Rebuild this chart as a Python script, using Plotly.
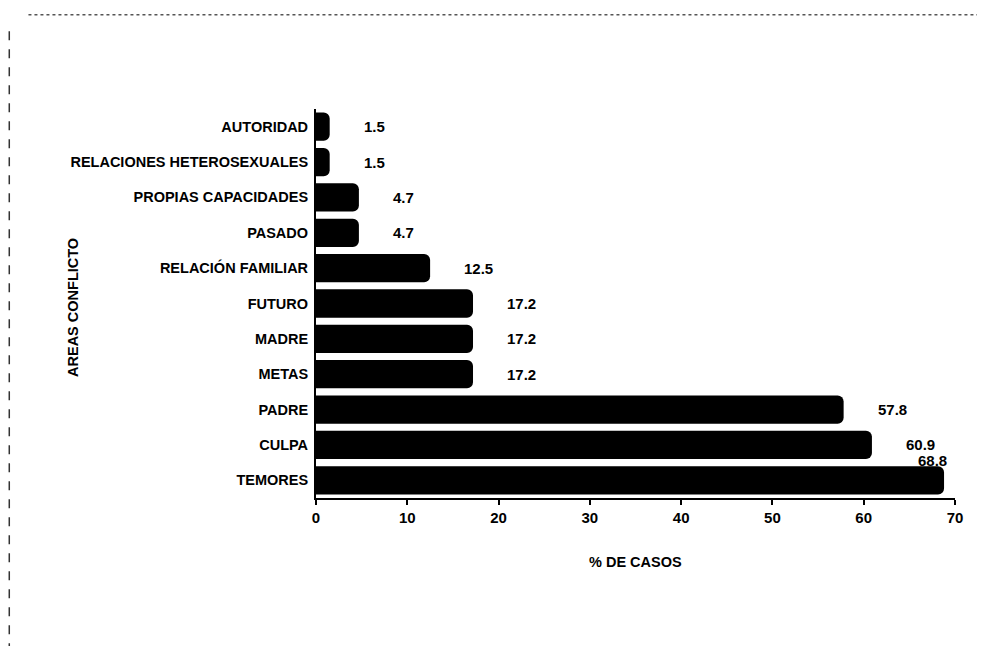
import plotly.graph_objects as go

# areas, bottom to top as drawn
areas = [
    "TEMORES", "CULPA", "PADRE", "METAS", "MADRE", "FUTURO",
    "RELACIÓN FAMILIAR", "PASADO", "PROPIAS CAPACIDADES",
    "RELACIONES HETEROSEXUALES", "AUTORIDAD",
]
pct_cases = [68.8, 60.9, 57.8, 17.2, 17.2, 17.2, 12.5, 4.7, 4.7, 1.5, 1.5]
x_ticks = [0, 10, 20, 30, 40, 50, 60, 70]

FONT = "Liberation Sans, Arial, sans-serif"

fig = go.Figure()
fig.add_trace(
    go.Bar(
        y=areas,
        x=pct_cases,
        orientation="h",
        width=0.8,
        marker={"color": "#000000", "cornerradius": 6, "line": {"width": 0}},
        hoverinfo="x+y",
    )
)

# value labels to the right of each bar (last one sits above)
for area, val in zip(areas, pct_cases):
    last = val == max(pct_cases)
    fig.add_annotation(
        x=val, y=area, xref="x", yref="y",
        text=f"<b>{val}</b>",
        showarrow=False,
        xanchor="left" if not last else "center",
        xshift=32 if not last else -12,
        yshift=0 if not last else 20,
        font={"family": FONT, "size": 15, "color": "#000000"},
    )

fig.add_annotation(
    x=-0.395, y=0.49, xref="paper", yref="paper",
    text="<b>AREAS CONFLICTO</b>", textangle=-90, showarrow=False,
    font={"family": FONT, "size": 14.5, "color": "#000000"},
)
fig.add_annotation(
    x=0.5, y=-0.19, xref="paper", yref="paper",
    text="<b>% DE CASOS</b>", showarrow=False,
    font={"family": FONT, "size": 14.5, "color": "#000000"},
)

# scanned page frame (top and left edges)
fig.add_shape(type="line", xref="paper", yref="paper",
              x0=-0.45, x1=1.06, y0=1.242, y1=1.242,
              line={"color": "#555555", "width": 1.5, "dash": "dot"})
fig.add_shape(type="line", xref="paper", yref="paper",
              x0=-0.48, x1=-0.48, y0=1.2, y1=-0.4,
              line={"color": "#333333", "width": 1.5, "dash": "dash"})

fig.update_layout(
    width=985,
    height=646,
    margin={"l": 308, "r": 38, "t": 101, "b": 156},
    paper_bgcolor="#ffffff",
    plot_bgcolor="#ffffff",
    showlegend=False,
    font={"family": FONT, "color": "#000000"},
    xaxis={
        "range": [0, 70],
        "tickvals": x_ticks,
        "ticktext": [f"<b>{t}</b>" for t in x_ticks],
        "tickfont": {"size": 15, "family": FONT},
        "showgrid": False,
        "zeroline": False,
        "showline": True,
        "linecolor": "#000000",
        "linewidth": 2,
        "ticks": "outside",
        "ticklen": 5,
        "tickwidth": 2,
        "tickcolor": "#000000",
    },
    yaxis={
        "tickvals": areas,
        "ticktext": [f"<b>{a}</b>" for a in areas],
        "tickfont": {"size": 14.5, "family": FONT},
        "showgrid": False,
        "showline": True,
        "linecolor": "#000000",
        "linewidth": 2,
        "ticks": "",
        "ticklabelstandoff": 3,
    },
)

fig.write_html("out.html")
